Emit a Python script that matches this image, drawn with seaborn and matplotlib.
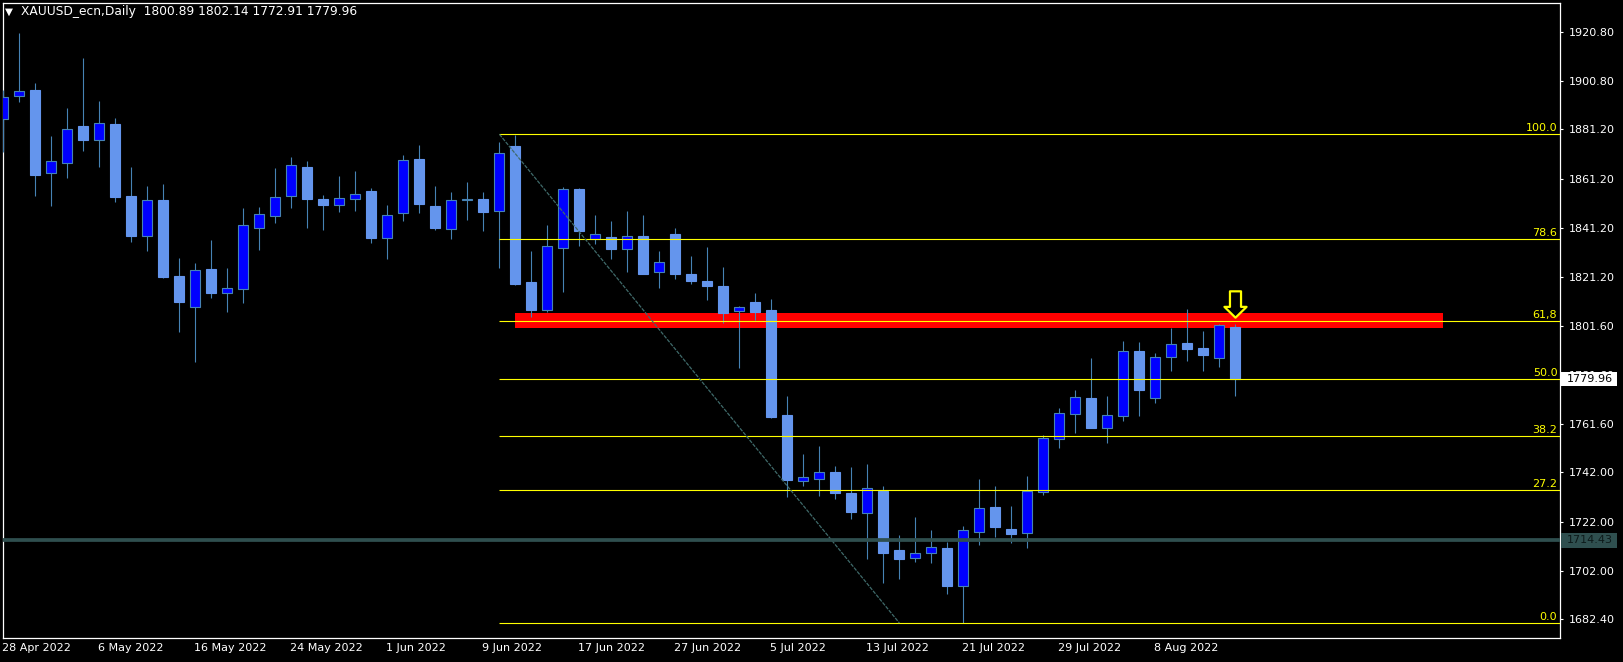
import numpy as np
import pandas as pd
import matplotlib
matplotlib.use("Agg")
import matplotlib.pyplot as plt
import matplotlib.transforms as mtransforms
from matplotlib.path import Path
import seaborn as sns

# ── data ───────────────────────────────────────────────────
SYMBOL = "XAUUSD_ecn,Daily"
FIRST_DAY, LAST_DAY = "2022-04-28", "2022-08-15"

OPEN = [1885.3, 1894.9, 1897.2, 1863.3, 1867.4, 1882.5, 1876.7, 1883.4, 1854.1, 1837.8,
        1852.5, 1821.7, 1809.0, 1824.5, 1814.6, 1816.3, 1841.0, 1845.9, 1854.0, 1865.9,
        1853.0, 1850.6, 1852.8, 1856.2, 1837.3, 1847.1, 1869.0, 1850.1, 1840.6, 1852.6,
        1852.9, 1847.9, 1874.4, 1819.3, 1808.0, 1832.9, 1856.9, 1836.7, 1837.5, 1832.5,
        1837.9, 1823.2, 1838.7, 1822.5, 1819.7, 1817.6, 1807.3, 1811.1, 1807.9, 1765.3,
        1738.6, 1739.4, 1742.1, 1733.6, 1725.4, 1734.5, 1710.5, 1707.1, 1709.2, 1711.3,
        1695.8, 1717.7, 1728.0, 1719.0, 1717.3, 1733.9, 1755.4, 1765.5, 1772.1, 1759.9,
        1764.8, 1791.2, 1772.0, 1788.7, 1794.4, 1792.4, 1788.5, 1800.89]
HIGH = [1897.2, 1920.3, 1900.0, 1878.5, 1889.9, 1910.1, 1892.7, 1885.8, 1866.0, 1858.2,
        1859.2, 1829.1, 1827.0, 1836.3, 1825.1, 1849.3, 1849.8, 1865.5, 1870.0, 1868.3,
        1854.5, 1862.3, 1864.3, 1857.5, 1850.5, 1870.8, 1874.8, 1858.2, 1855.8, 1859.8,
        1855.8, 1876.1, 1879.0, 1831.8, 1842.4, 1857.9, 1857.4, 1846.4, 1844.0, 1848.0,
        1846.4, 1831.8, 1841.2, 1829.8, 1833.4, 1825.5, 1809.4, 1814.9, 1812.3, 1773.0,
        1749.4, 1752.7, 1744.6, 1744.2, 1745.4, 1736.5, 1716.6, 1723.9, 1718.6, 1713.6,
        1720.2, 1739.3, 1736.5, 1728.4, 1740.5, 1757.2, 1768.1, 1775.4, 1788.4, 1773.0,
        1795.3, 1794.9, 1790.4, 1800.6, 1808.3, 1799.4, 1802.1, 1802.14]
LOW = [1872.1, 1892.4, 1854.3, 1850.2, 1861.6, 1872.4, 1866.0, 1851.8, 1835.6, 1832.0,
       1821.0, 1799.1, 1786.6, 1812.9, 1807.2, 1810.9, 1832.4, 1843.3, 1849.4, 1841.2,
       1840.5, 1847.8, 1848.2, 1835.2, 1828.5, 1844.1, 1847.4, 1840.5, 1836.8, 1844.4,
       1839.9, 1825.1, 1818.0, 1805.2, 1807.2, 1815.3, 1834.0, 1834.8, 1828.7, 1823.4,
       1822.4, 1816.9, 1820.6, 1818.6, 1812.1, 1802.7, 1784.5, 1803.8, 1763.9, 1732.2,
       1736.5, 1732.4, 1731.3, 1723.2, 1707.0, 1697.3, 1698.9, 1705.8, 1705.4, 1692.5,
       1681.0, 1712.6, 1715.7, 1713.5, 1711.5, 1732.8, 1752.0, 1758.1, 1760.0, 1754.1,
       1763.0, 1765.0, 1770.1, 1783.3, 1787.3, 1783.3, 1784.9, 1772.91]
CLOSE = [1894.4, 1896.7, 1862.8, 1868.2, 1881.2, 1877.0, 1883.6, 1853.9, 1838.1, 1852.4,
         1821.4, 1811.3, 1824.0, 1814.9, 1816.7, 1842.2, 1846.7, 1853.6, 1866.6, 1853.1,
         1850.6, 1853.2, 1854.8, 1837.2, 1846.3, 1868.6, 1851.0, 1841.3, 1852.5, 1853.1,
         1847.8, 1871.5, 1818.4, 1807.9, 1833.9, 1856.8, 1840.1, 1838.6, 1832.8, 1837.9,
         1822.6, 1827.2, 1822.6, 1819.8, 1817.8, 1806.8, 1809.2, 1807.2, 1764.6, 1738.9,
         1740.0, 1742.0, 1733.8, 1726.1, 1735.5, 1709.4, 1707.0, 1709.2, 1711.6, 1696.0,
         1718.5, 1727.4, 1720.0, 1717.1, 1734.5, 1755.8, 1766.0, 1772.4, 1760.1, 1765.2,
         1791.1, 1775.5, 1788.7, 1793.9, 1792.2, 1789.7, 1802.0, 1779.96]

DATE_LABELS = ["28 Apr 2022", "6 May 2022", "16 May 2022", "24 May 2022", "1 Jun 2022",
               "9 Jun 2022", "17 Jun 2022", "27 Jun 2022", "5 Jul 2022", "13 Jul 2022",
               "21 Jul 2022", "29 Jul 2022", "8 Aug 2022"]
PRICE_TICKS = [1920.80, 1900.80, 1881.20, 1861.20, 1841.20, 1821.20, 1801.60,
               1781.60, 1761.60, 1742.00, 1722.00, 1702.00, 1682.40]

# fibonacci retracement drawn on the chart
FIB_HIGH, FIB_LOW = 1879.2, 1680.9
FIB_START, FIB_END = "2022-06-10", "2022-07-15"
FIB_LEVELS = [0.0, 27.2, 38.2, 50.0, 61.8, 78.6, 100.0]
FIB_TEXT = ["0.0", "27.2", "38.2", "50.0", "61,8", "78.6", "100.0"]

# resistance zone, support line, signal arrow
ZONE_LOW, ZONE_HIGH = 1800.6, 1806.5
ZONE_START, ZONE_BARS = "2022-06-13", 58
SUPPORT = 1714.43
ARROW_DATE, ARROW_PRICE = "2022-08-15", 1810.3

BULL, BEAR, WICK = "#0000FF", "#6495ED", "#4682B4"
FIB_COL, GRID_COL = "#FFFF00", "#2F4F4F"

# ── style ────────────────────────────────────────────────
sns.set_theme(style="dark", rc={
    "figure.facecolor": "black", "axes.facecolor": "black",
    "axes.edgecolor": "white", "text.color": "white",
    "xtick.color": "white", "ytick.color": "white",
})
plt.rcParams["font.family"] = ["DejaVu Sans"]

dates = pd.bdate_range(FIRST_DAY, LAST_DAY)
idx = np.arange(len(dates))
o, h, l, c = map(np.asarray, (OPEN, HIGH, LOW, CLOSE))
up = c >= o

W, H = 1623, 662
fig = plt.figure(figsize=(W / 100, H / 100), dpi=100)
ax = fig.add_axes([2.7 / W, (H - 637.7) / H, 1557 / W, 635 / H])
ax.set_xlim(-0.044, 97.27)
ax.set_ylim(1674.94, 1932.57)

# resistance zone (behind candles)
z0 = dates.get_loc(pd.Timestamp(ZONE_START))
ax.fill_between([z0, z0 + ZONE_BARS], ZONE_LOW, ZONE_HIGH, color="red", lw=0, zorder=2)

# candles
ax.vlines(idx, l, h, color=WICK, lw=0.8, zorder=3)
ax.bar(idx[up], np.maximum((c - o)[up], 0.3), bottom=o[up], width=0.62,
       color=BULL, edgecolor=WICK, lw=0.8, zorder=4)
ax.bar(idx[~up], (o - c)[~up], bottom=c[~up], width=0.62,
       color=BEAR, edgecolor=BEAR, lw=0.8, zorder=4)

# fib levels
f0 = dates.get_loc(pd.Timestamp(FIB_START))
f1 = dates.get_loc(pd.Timestamp(FIB_END))
lab_tr = mtransforms.blended_transform_factory(ax.transAxes, ax.transData)
for lev, txt in zip(FIB_LEVELS, FIB_TEXT):
    price = FIB_LOW + (FIB_HIGH - FIB_LOW) * lev / 100
    ax.hlines(price, f0, ax.get_xlim()[1], color=FIB_COL, lw=0.8, zorder=6)
    ax.text(0.9985, price + 0.4, txt, transform=lab_tr, ha="right", va="bottom",
            color=FIB_COL, fontsize=8, zorder=7)
sns.lineplot(x=[f0, f1], y=[FIB_HIGH, FIB_LOW], ax=ax, color="#3f6a6a",
             lw=0.9, linestyle=(0, (3, 1)), zorder=6)

# support line
ax.axhline(SUPPORT, color=GRID_COL, lw=2.7, zorder=6)

# hollow down arrow over the last candle
arrow = Path([(-0.21, 0.5), (0.21, 0.5), (0.21, -0.09), (0.42, -0.09), (0.0, -0.5),
              (-0.42, -0.09), (-0.21, -0.09), (-0.21, 0.5)], closed=True)
ax.scatter([dates.get_loc(pd.Timestamp(ARROW_DATE))], [ARROW_PRICE], marker=arrow,
           s=360, facecolor="black", edgecolor=FIB_COL, lw=1.6, zorder=8)

# axes
for sp in ax.spines.values():
    sp.set_color("white")
    sp.set_linewidth(0.9)
ax.yaxis.tick_right()
ax.set_yticks(PRICE_TICKS)
ax.set_yticklabels([f"{v:.2f}" for v in PRICE_TICKS])
ax.tick_params(axis="y", direction="out", length=2.5, width=0.8, pad=4,
               labelsize=8, colors="white")
ticks = [dates.get_loc(pd.Timestamp(s)) for s in DATE_LABELS]
ax.set_xticks(ticks)
ax.set_xticklabels(DATE_LABELS, ha="left")
ax.tick_params(axis="x", direction="out", length=2.5, width=0.8, pad=1.5,
               labelsize=8, colors="white")
offset = mtransforms.ScaledTranslation(-1 / 100, 0, fig.dpi_scale_trans)
for t in ax.get_xticklabels():
    t.set_transform(t.get_transform() + offset)
ax.grid(False)

# price boxes on the scale
for price, face, txtcol in [(CLOSE[-1], "white", "black"), (SUPPORT, GRID_COL, "#0d1a1a")]:
    ax.add_patch(plt.Rectangle((1.0006, price - 2.9), 0.036, 5.8, transform=lab_tr,
                               facecolor=face, edgecolor="none", clip_on=False, zorder=20))
    ax.text(1.0044, price, f"{price:.2f}", transform=lab_tr, ha="left", va="center",
            color=txtcol, fontsize=8, zorder=21, clip_on=False)

# header
fig.text(5 / W, 1 - 12 / H, "\u25BC", fontsize=7.5, color="white", va="center")
fig.text(21 / W, 1 - 12 / H, f"{SYMBOL}  {OPEN[-1]:.2f} {HIGH[-1]:.2f} {LOW[-1]:.2f} {CLOSE[-1]:.2f}",
         fontsize=8.8, color="white", va="center")

fig.savefig("out.png", dpi=100, facecolor="black")
